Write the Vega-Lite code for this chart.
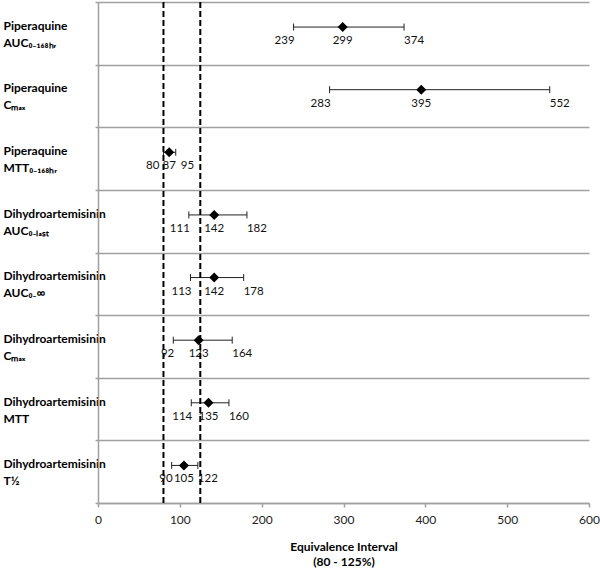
{
  "$schema": "https://vega.github.io/schema/vega-lite/v6.json",
  "width": 491,
  "height": 501,
  "autosize": "none",
  "padding": {"left": 98, "top": 2, "right": 11, "bottom": 65},
  "config": {"view": {"stroke": null}, "font": "Lato"},
  "data": {
    "values": [
      {"label": "Piperaquine|AUC₀₋₁₆₈ₕᵣ", "lower": 239, "est": 299, "upper": 374},
      {"label": "Piperaquine|Cₘₐₓ", "lower": 283, "est": 395, "upper": 552},
      {"label": "Piperaquine|MTT₀₋₁₆₈ₕᵣ", "lower": 80, "est": 87, "upper": 95},
      {"label": "Dihydroartemisinin|AUC₀₋ₗₐₛₜ", "lower": 111, "est": 142, "upper": 182},
      {"label": "Dihydroartemisinin|AUC₀₋∞", "lower": 113, "est": 142, "upper": 178},
      {"label": "Dihydroartemisinin|Cₘₐₓ", "lower": 92, "est": 123, "upper": 164},
      {"label": "Dihydroartemisinin|MTT", "lower": 114, "est": 135, "upper": 160},
      {"label": "Dihydroartemisinin|T½", "lower": 90, "est": 105, "upper": 122}
    ]
  },
  "layer": [
    {
      "encoding": {
        "y": {
          "field": "label",
          "type": "nominal",
          "sort": null,
          "bandPosition": 0.4,
          "scale": {"paddingInner": 0, "paddingOuter": 0},
          "axis": {
            "title": null,
            "domain": true,
            "domainColor": "#a0a0a0",
            "domainWidth": 1.5,
            "ticks": true,
            "tickBand": "extent",
            "tickSize": 3,
            "tickColor": "#a0a0a0",
            "tickWidth": 1.5,
            "grid": true,
            "gridColor": "#a0a0a0",
            "gridWidth": 1.5,
            "labelAlign": "left",
            "labelBaseline": "middle",
            "labelPadding": 92,
            "labelOffset": -8,
            "labelFont": "Lato",
            "labelFontWeight": "bold",
            "labelFontSize": 12,
            "labelColor": "#000000",
            "labelLineHeight": 17,
            "labelLimit": 0,
            "labelOverlap": false,
            "labelExpr": "split(datum.label, '|')"
          }
        }
      },
      "layer": [
        {
          "mark": {"type": "rule", "color": "#222222", "strokeWidth": 1},
          "encoding": {
            "x": {
              "field": "lower",
              "type": "quantitative",
              "scale": {"domain": [0, 600], "nice": false},
              "axis": {
                "values": [0, 100, 200, 300, 400, 500, 600],
                "grid": false,
                "labelFlush": false,
                "domainColor": "#a0a0a0",
                "domainWidth": 1.5,
                "tickColor": "#a0a0a0",
                "tickWidth": 1.5,
                "tickSize": 4,
                "labelFont": "Lato",
                "labelFontSize": 12,
                "labelColor": "#222222",
                "labelPadding": 7,
                "title": ["Equivalence Interval", "(80 - 125%)"],
                "titleFont": "Lato",
                "titleFontSize": 12,
                "titleFontWeight": "bold",
                "titleColor": "#000000",
                "titleLineHeight": 15,
                "titlePadding": 16
              }
            },
            "x2": {"field": "upper"}
          }
        },
        {
          "mark": {"type": "point", "shape": "stroke", "angle": 90, "size": 49, "filled": false, "color": "#222222", "strokeWidth": 1, "opacity": 1},
          "encoding": {"x": {"field": "lower", "type": "quantitative"}}
        },
        {
          "mark": {"type": "point", "shape": "stroke", "angle": 90, "size": 49, "filled": false, "color": "#222222", "strokeWidth": 1, "opacity": 1},
          "encoding": {"x": {"field": "upper", "type": "quantitative"}}
        },
        {
          "mark": {"type": "point", "shape": "diamond", "size": 100, "filled": true, "color": "#000000", "opacity": 1},
          "encoding": {"x": {"field": "est", "type": "quantitative"}}
        },
        {
          "mark": {"type": "text", "align": "center", "baseline": "middle", "dy": 14, "font": "Lato", "fontSize": 11.5, "color": "#111111"},
          "encoding": {"x": {"field": "est", "type": "quantitative"}, "text": {"field": "est"}}
        },
        {
          "mark": {"type": "text", "align": "right", "baseline": "middle", "dy": 14, "dx": {"expr": "datum.est - datum.lower < 15 ? -4 : 1"}, "font": "Lato", "fontSize": 11.5, "color": "#111111"},
          "encoding": {"x": {"field": "lower", "type": "quantitative"}, "text": {"field": "lower"}}
        },
        {
          "mark": {"type": "text", "align": "left", "baseline": "middle", "dy": 14, "dx": {"expr": "datum.upper - datum.est < 15 ? 5 : 0"}, "font": "Lato", "fontSize": 11.5, "color": "#111111"},
          "encoding": {"x": {"field": "upper", "type": "quantitative"}, "text": {"field": "upper"}}
        }
      ]
    },
    {
      "data": {"values": [{"v": 80}, {"v": 125}]},
      "mark": {"type": "rule", "color": "#000000", "strokeWidth": 2, "strokeDash": [6, 3]},
      "encoding": {"x": {"field": "v", "type": "quantitative"}}
    }
  ]
}
